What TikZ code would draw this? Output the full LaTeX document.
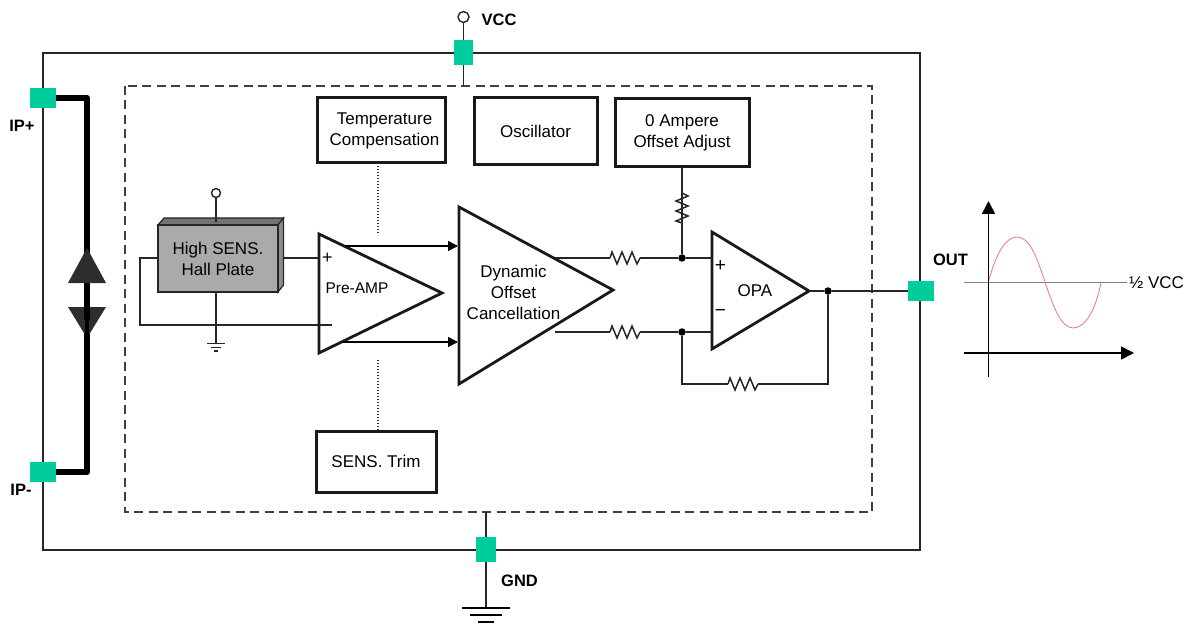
\documentclass[tikz,border=0pt]{standalone}
\usepackage{fontspec}
\setmainfont{Liberation Sans}
\usetikzlibrary{arrows.meta}
\definecolor{padgreen}{RGB}{0,205,155}
\definecolor{platefill}{RGB}{170,170,170}
\definecolor{arrdark}{RGB}{45,45,45}
\definecolor{sinered}{RGB}{232,120,125}
\tikzset{
 x=1pt,y=-1pt,
 wire/.style={line width=1.7pt,draw=black!85},
 thin wire/.style={line width=1.5pt,draw=black!85},
 pad/.style={fill=padgreen,draw=none,minimum width=#1,inner sep=0pt,outer sep=0pt},
 pad/.default=26pt,
 blockbox/.style={draw=black!90,line width=3pt,align=center,inner sep=0pt,outer sep=0pt,font=\fontsize{17}{21}\selectfont},
 amp/.style={draw=black!90,line width=2.8pt,line join=miter,fill=white},
 lbl/.style={font=\fontsize{17}{21}\selectfont,align=center,inner sep=0pt},
 pinlbl/.style={font=\fontsize{16.5}{20}\selectfont\bfseries,inner sep=0pt},
 dot/.style={circle,fill=black,draw=none,minimum size=7.5pt,inner sep=0pt},
 opencirc/.style={circle,draw=black!85,line width=1.4pt,fill=white,inner sep=0pt},
 dots/.style={line width=1.2pt,draw=black!80,dash pattern=on 1.4pt off 1.6pt},
 sig/.style={line width=1.6pt,draw=black,-{Triangle[length=10pt,width=10pt]}},
 res/.pic={
  \coordinate (-a) at (-15,0); \coordinate (-b) at (15,0);
  \draw[thin wire,line join=miter] (-a)--(-13,-6)--(-8,6)--(-3,-6)--(2,6)--(7,-6)--(12,6)--(-b);},
}
\begin{document}
\begin{tikzpicture}
\useasboundingbox (0,0) rectangle (1193,628);
% frames
\draw[line width=1.6pt,draw=black!85] (43,53) rectangle (920,550);
\draw[line width=1.5pt,draw=black!75,dash pattern=on 9pt off 5.5pt] (125,86) rectangle (872,512);
% current conductor
\node[pad,minimum height=20pt] (ipp) at (43,98) {};
\node[pad,minimum height=20pt] (ipm) at (43,472) {};
\coordinate (busT) at (87,98);
\coordinate (busB) at (87,472);
\draw[line width=6pt,line join=round] (ipp.east) -- (busT) -- (busB) -- (ipm.east);
\fill[arrdark] (87,248) -- (106,283) -- (68,283) -- cycle;
\fill[arrdark] (87,338) -- (106,307) -- (68,307) -- cycle;
\draw[line width=6pt] (87,295) -- (87,320);
\draw[line width=4pt,draw=black] (87,307) -- (87,338);
% supply
\node[opencirc,minimum size=11pt] (vccpin) at (463.5,17) {};
\node[pad=19pt,minimum height=25pt] (vccpad) at (463.5,52.5) {};
\coordinate (vccin) at (463.5,86);
\draw[wire] (vccpin) -- (vccpad) -- (vccin);
\coordinate (gndtop) at (486,512);
\coordinate (gndend) at (486,607);
\draw[wire] (gndtop) -- (gndend);
\node[pad=20pt,minimum height=25pt] (gndpad) at (486,549.5) {};
\draw[line width=2pt] (462,607.5) -- (510,607.5) (470,615) -- (502,615) (478,622) -- (494,622);
% blocks
\node[blockbox,minimum width=128pt,minimum height=65pt] (temp) at (381,130.5) {};
\node[lbl] (templbl) at (384.5,130.5) {Temperature\\Compensation};
\node[blockbox,minimum width=123pt,minimum height=67pt] (osc) at (535.5,131.5) {Oscillator};
\node[blockbox,minimum width=134pt,minimum height=68pt] (zero) at (682,133) {0 Ampere\\Offset Adjust};
\node[blockbox,minimum width=120pt,minimum height=61pt] (trim) at (376,461.5) {SENS. Trim};
% dotted links
\coordinate (dotA) at (378,235);
\coordinate (dotB) at (378,360);
\draw[dots] (temp.south -| dotA) -- (dotA);
\draw[dots] (dotB) -- (trim.north -| dotB);
% hall plate
\filldraw[fill=black!55,draw=black!85,line width=1.2pt] (158,225) -- (164,218) -- (283.5,218) -- (278,225) -- cycle;
\filldraw[fill=black!45,draw=black!85,line width=1.2pt] (278,225) -- (283.5,218) -- (283.5,285) -- (278,292) -- cycle;
\node[draw=black!85,fill=platefill,line width=1.8pt,minimum width=120pt,minimum height=67pt,inner sep=0pt,outer sep=0pt,lbl] (hall) at (218,258.5) {High SENS.\\Hall Plate};
\node[opencirc,minimum size=9pt] (hallpin) at (216,193) {};
\coordinate (halltop) at (216,222);
\draw[thin wire] (hallpin) -- (halltop);
\coordinate (hallgnd) at (216,343);
\draw[thin wire] (216,292) -- (hallgnd);
\draw[thin wire] (207,343.5) -- (225,343.5) (211,347.5) -- (221,347.5) (214,351) -- (218,351);
% pre-amp wiring
\coordinate (plusin) at (320,258);
\coordinate (minusin) at (332,325);
\draw[thin wire] (283.5,258) -- (plusin);
\draw[thin wire] (hall.west |- 0,258) -- (140,258) -- (140,325) -- (minusin);
% pre-amp
\coordinate (pa1) at (319,234); \coordinate (pa2) at (442,293); \coordinate (pa3) at (319,353);
\draw[amp,fill=none] (pa1) -- (pa2) -- (pa3) -- cycle;
\node[font=\fontsize{18}{21}\selectfont,inner sep=0pt] (pplus) at (327.5,258.5) {+};
\node[font=\fontsize{15.5}{21}\selectfont,inner sep=0pt] (palbl) at (357,288) {Pre-AMP};
\coordinate (paoT) at (345,246); \coordinate (paoB) at (343,342);
\coordinate (doT) at (458,246); \coordinate (doB) at (458,342);
\draw[sig] (paoT) -- (doT);
\draw[sig] (paoB) -- (doB);
% dynamic offset
\coordinate (d1) at (459,207); \coordinate (d2) at (613,290); \coordinate (d3) at (459,384);
\draw[amp,fill=none] (d1) -- (d2) -- (d3) -- cycle;
\node[lbl] (dlbl) at (513.5,292) {Dynamic\\Offset\\Cancellation};
% op amp
\coordinate (o1) at (712,232); \coordinate (o2) at (809,291); \coordinate (o3) at (712,349);
\draw[amp,fill=none] (o1) -- (o2) -- (o3) -- cycle;
\node[lbl] (olbl) at (755,291) {OPA};
\node[font=\fontsize{19}{21}\selectfont,inner sep=0pt] (oplus) at (720.5,266) {+};
\node[font=\fontsize{19}{21}\selectfont,inner sep=0pt] (ominus) at (720.5,313.5) {\textminus};
% resistors
\pic (r1) at (625,258) {res};
\pic (r2) at (625,332) {res};
\pic[rotate=90] (r3) at (682,208) {res};
\pic (r4) at (743,384) {res};
\node[dot] (n1) at (682,258) {};
\node[dot] (n2) at (682,332) {};
\node[dot] (n3) at (828,291) {};
\coordinate (dT) at (555,258); \coordinate (dB) at (555,332);
\coordinate (oT) at (712,258); \coordinate (oB) at (712,332);
\draw[thin wire] (dT) -- (r1-a) (r1-b) -- (n1) -- (oT);
\draw[thin wire] (dB) -- (r2-a) (r2-b) -- (n2) -- (oB);
\draw[thin wire] (zero.south -| n1) -- (r3-a) (r3-b) -- (n1);
\draw[thin wire] (n2) -- (682,384) -- (r4-a) (r4-b) -- (828,384) -- (n3);
\node[pad,minimum height=20pt] (outpad) at (921,291) {};
\draw[thin wire] (o2) -- (n3) -- (outpad);
% pin labels
\node[pinlbl] (lvcc) at (499,20) {VCC};
\node[pinlbl] (lipp) at (22,126) {IP+};
\node[pinlbl] (lipm) at (21,490) {IP-};
\node[pinlbl] (lgnd) at (519.5,581) {GND};
\node[pinlbl] (lout) at (950.5,260) {OUT};
% waveform
\draw[line width=1.3pt,draw=black!50] (964,282.5) -- (1127,282.5);
\node[lbl,anchor=west] (half) at (1129,282.5) {½ VCC};
\draw[line width=.8pt,draw=sinered] (989,280) .. controls (997,250) and (1007,237) .. (1017,237) .. controls (1030,237) and (1037,258) .. (1045,282) .. controls (1053,306) and (1061,328) .. (1073,328) .. controls (1085,328) and (1096,310) .. (1101,282);
\draw[line width=1.6pt,-{Triangle[length=13pt,width=13pt]}] (988.5,377) -- (988.5,201);
\draw[line width=1.6pt,-{Triangle[length=13pt,width=13pt]}] (964,353) -- (1134,353);
\end{tikzpicture}
\end{document}
